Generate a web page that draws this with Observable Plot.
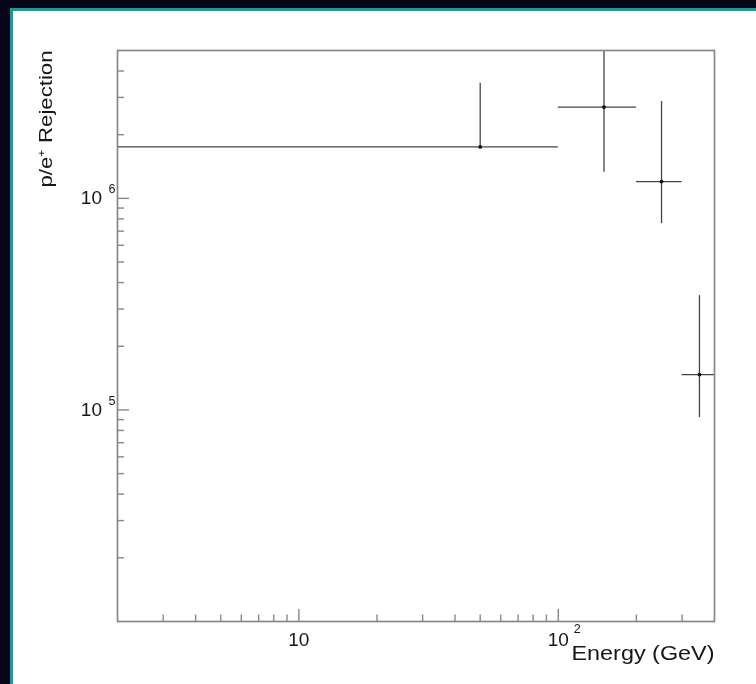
<!DOCTYPE html>
<html>
<head>
<meta charset="utf-8">
<script src="https://cdn.jsdelivr.net/npm/d3@7"></script>
<script src="https://cdn.jsdelivr.net/npm/@observablehq/plot@0.6"></script>
<style>
  html, body { margin: 0; padding: 0; width: 756px; height: 684px; overflow: hidden; background: #06051a; }
  #panel { position: absolute; left: 10px; top: 8px; right: 0; bottom: 0; background: #ffffff;
           border-left: 3.5px solid #139c98; border-top: 3.5px solid #139c98; }
  #chart { position: absolute; left: 0; top: 0; filter: blur(0.45px); }
</style>
</head>
<body>
<div id="panel"></div>
<div id="chart"></div>
<script>
// ---- data ----
const energy        = [50, 150, 250, 350];          // GeV, bin centres
const energyLow     = [1, 100, 200, 300];           // bin lower edges (first bin starts below the axis)
const energyHigh    = [100, 200, 300, 400];         // bin upper edges
const rejection     = [1.75e6, 2.7e6, 1.2e6, 1.47e5];
const rejectionLow  = [1.75e6, 1.33e6, 7.6e5, 9.2e4];
const rejectionHigh = [3.5e6, 6.0e6, 2.87e6, 3.47e5];

const xMajorTicks = [10, 100];
const xMinorTicks = [3, 4, 5, 6, 7, 8, 9, 20, 30, 40, 50, 60, 70, 80, 90, 200, 300];
const yMajorTicks = [1e5, 1e6];
const yMinorTicks = [2e4, 3e4, 4e4, 5e4, 6e4, 7e4, 8e4, 9e4,
                     2e5, 3e5, 4e5, 5e5, 6e5, 7e5, 8e5, 9e5,
                     2e6, 3e6, 4e6];
const xTickBase = ["10", "10"];
const xTickExponents = ["", "2"];
const yTickBase = ["10", "10"];
const yTickExponents = ["5", "6"];
const xTitle = "Energy (GeV)";
const yTitle = "p/e\u207A Rejection";

// ---- table built from the arrays ----
const points = energy.map((e, i) => ({
  energy: e, lo: energyLow[i], hi: energyHigh[i],
  r: rejection[i], rlo: rejectionLow[i], rhi: rejectionHigh[i]
}));

const frameGrey = "#888888";
const barColor = "#444444";
const textColor = "#161616";

const plot = Plot.plot({
  width: 756,
  height: 684,
  marginLeft: 117,
  marginRight: 42,
  marginTop: 50,
  marginBottom: 63,
  style: { background: "transparent", fontFamily: "'Liberation Sans', Arial, Helvetica, sans-serif", color: textColor, overflow: "visible" },
  x: { type: "log", domain: [2, 400] },
  y: { type: "log", domain: [1e4, 5e6] },
  marks: [
    // ticks pointing into the frame
    Plot.axisX(xMinorTicks, { anchor: "bottom", tickSize: -6.5, tickFormat: () => "", stroke: frameGrey, strokeWidth: 1.4, label: null }),
    Plot.axisX(xMajorTicks, { anchor: "bottom", tickSize: -12, tickFormat: () => "", stroke: frameGrey, strokeWidth: 1.4, label: null }),
    Plot.axisY(yMinorTicks, { anchor: "left", tickSize: -7, tickFormat: () => "", stroke: frameGrey, strokeWidth: 1.4, label: null }),
    Plot.axisY(yMajorTicks, { anchor: "left", tickSize: -12, tickFormat: () => "", stroke: frameGrey, strokeWidth: 1.4, label: null }),

    // tick labels (ROOT style 10 and 10^n)
    Plot.text(xMajorTicks, { x: d => d, text: xTickBase, frameAnchor: "bottom", dy: 24, fontSize: 19, fill: textColor }),
    Plot.text(xMajorTicks, { x: d => d, text: xTickExponents, frameAnchor: "bottom", dx: 19, dy: 11.5, fontSize: 12.5, fill: textColor }),
    Plot.text(yMajorTicks, { y: d => d, text: yTickBase, frameAnchor: "left", textAnchor: "end", dx: -15.5, dy: 0, fontSize: 19, fill: textColor }),
    Plot.text(yMajorTicks, { y: d => d, text: yTickExponents, frameAnchor: "left", textAnchor: "start", dx: -9, dy: -9, fontSize: 12.5, fill: textColor }),

    // axis titles
    Plot.text([xTitle], { frameAnchor: "bottom-right", textAnchor: "end", dy: 38, fontSize: 19.5, fill: textColor }),
    Plot.text([yTitle], { frameAnchor: "top-left", rotate: -90, textAnchor: "end", dx: -78, fontSize: 17.5, fill: textColor }),

    // error bars and points
    Plot.ruleY(points, { y: "r", x1: "lo", x2: "hi", stroke: barColor, strokeWidth: 1.3, clip: true }),
    Plot.ruleX(points, { x: "energy", y1: "rlo", y2: "rhi", stroke: barColor, strokeWidth: 1.3, clip: true }),
    Plot.dot(points, { x: "energy", y: "r", r: 1.9, fill: "#111", stroke: null }),

    Plot.frame({ stroke: frameGrey, strokeWidth: 1.7 })
  ]
});

// ROOT's title font is wider than Helvetica: stretch the titles to the reference extent
d3.select(plot).selectAll("text")
  .filter(function () { return this.textContent === xTitle; })
  .attr("textLength", 143).attr("lengthAdjust", "spacingAndGlyphs");
d3.select(plot).selectAll("text")
  .filter(function () { return this.textContent === yTitle; })
  .attr("textLength", 137).attr("lengthAdjust", "spacingAndGlyphs");

document.getElementById("chart").appendChild(plot);
</script>
</body>
</html>
